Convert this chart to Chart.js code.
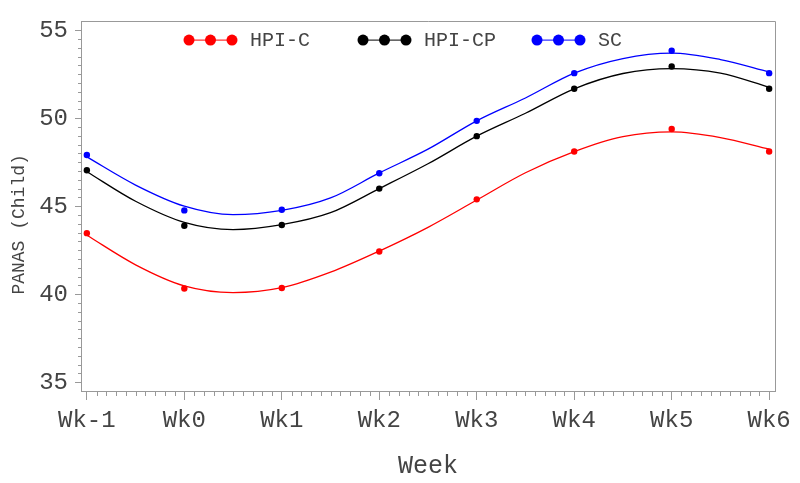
<!DOCTYPE html>
<html><head><meta charset="utf-8">
<script src="https://cdn.jsdelivr.net/npm/chart.js@4"></script>
<style>html,body{margin:0;padding:0;background:#fff}</style>
</head><body>
<canvas id="c" width="800" height="483"></canvas>
<script>
// ---- data ----
const weekLabels = ['Wk-1','Wk0','Wk1','Wk2','Wk3','Wk4','Wk5','Wk6'];
const weekValues = [-1,0,1,2,3,4,5,6];
const seriesNames = ['HPI-C','HPI-CP','SC'];
const seriesColors = ['#ff0000','#000000','#0000ff'];
const hpiC  = [43.47,40.32,40.35,42.43,45.39,48.11,49.39,48.11];
const hpiCP = [47.04,43.89,43.93,46.00,48.98,51.67,52.94,51.67];
const sc    = [47.91,44.76,44.80,46.87,49.85,52.56,53.83,52.56];
// smoothed curves, read at half-week positions
const fitWeeks = [-1,-0.5,0,0.5,1,1.5,2,2.5,3,3.5,4,4.5,5,5.5,6];
const hpiCFit  = [43.35,41.67,40.47,40.09,40.37,41.25,42.45,43.80,45.35,46.90,48.10,48.95,49.22,48.90,48.24];
const hpiCPFit = [46.96,45.28,44.08,43.67,43.95,44.63,46.00,47.41,48.98,50.28,51.67,52.54,52.82,52.56,51.76];
const scFit    = [47.80,46.20,45.00,44.52,44.76,45.47,46.89,48.24,49.85,51.15,52.56,53.39,53.70,53.33,52.63];
const yTicks = [35,40,45,50,55];
const xTitle = 'Week';
const yTitle = 'PANAS (Child)';

const FONT = '"Liberation Mono", "Courier New", monospace';
const TXT = '#444444';
const AX = '#999999';

const pointSeries = [hpiC, hpiCP, sc];
const fitSeries = [hpiCFit, hpiCPFit, scFit];

const datasets = [];
fitSeries.forEach((arr, i) => {
  datasets.push({
    type: 'line', label: seriesNames[i] + ' fit',
    data: fitWeeks.map((w, k) => ({x: w, y: arr[k]})),
    borderColor: seriesColors[i], borderWidth: 1.3, pointRadius: 0,
    cubicInterpolationMode: 'monotone', fill: false, order: 2
  });
});
pointSeries.forEach((arr, i) => {
  datasets.push({
    type: 'scatter', label: seriesNames[i], inLegend: true,
    data: weekValues.map((w, k) => ({x: w, y: arr[k]})),
    backgroundColor: seriesColors[i], borderColor: seriesColors[i],
    pointRadius: 3.2, pointBorderWidth: 0, showLine: false, order: 1
  });
});

const decor = {
  id: 'decor',
  afterDraw(chart) {
    const ctx = chart.ctx, ca = chart.chartArea;
    const xs = chart.scales.x, ys = chart.scales.y;
    ctx.save();
    // frame top/right
    ctx.strokeStyle = AX; ctx.lineWidth = 1;
    ctx.beginPath();
    ctx.moveTo(ca.left, Math.round(ca.top) + 0.5);
    ctx.lineTo(Math.round(ca.right) + 0.5, Math.round(ca.top) + 0.5);
    ctx.lineTo(Math.round(ca.right) + 0.5, ca.bottom);
    ctx.stroke();
    // minor ticks
    ctx.beginPath();
    for (let i = -10; i <= 60; i++) {
      if (i % 10 === 0) continue;
      const px = Math.round(xs.getPixelForValue(i / 10)) + 0.5;
      ctx.moveTo(px, ca.bottom); ctx.lineTo(px, ca.bottom + 5);
    }
    for (let i = 70; i <= 110; i++) {
      if (i % 10 === 0) continue;
      const py = Math.round(ys.getPixelForValue(i / 2)) + 0.5;
      ctx.moveTo(ca.left - 3, py); ctx.lineTo(ca.left, py);
    }
    ctx.stroke();
    // y title
    ctx.fillStyle = TXT;
    ctx.font = '18px ' + FONT;
    ctx.textAlign = 'center'; ctx.textBaseline = 'middle';
    ctx.translate(19, ca.top + 203);
    ctx.rotate(-Math.PI / 2);
    ctx.fillText(yTitle, 0, 0);
    ctx.restore();
    // legend
    ctx.save();
    const items = chart.data.datasets.filter(d => d.inLegend);
    let x = ca.left + 102.5; const y = ca.top + 18.7;
    ctx.font = '20px ' + FONT; ctx.textBaseline = 'middle'; ctx.textAlign = 'left';
    items.forEach(d => {
      ctx.strokeStyle = d.borderColor; ctx.lineWidth = 1;
      ctx.beginPath(); ctx.moveTo(x + 5.5, y); ctx.lineTo(x + 48.5, y); ctx.stroke();
      ctx.fillStyle = d.backgroundColor;
      [5.5, 27, 48.5].forEach(o => { ctx.beginPath(); ctx.arc(x + o, y, 5.5, 0, Math.PI * 2); ctx.fill(); });
      ctx.fillStyle = TXT;
      ctx.fillText(d.label, x + 66.5, y + 1);
      x += 174;
    });
    ctx.restore();
  }
};

new Chart(document.getElementById('c'), {
  type: 'scatter',
  data: { datasets },
  options: {
    responsive: false, animation: false, devicePixelRatio: 1,
    layout: { padding: { left: 0, top: 13, right: 25, bottom: 0 } },
    plugins: { legend: { display: false }, tooltip: { enabled: false } },
    scales: {
      x: {
        type: 'linear', min: -1.06, max: 6.06,
        afterBuildTicks: s => { s.ticks = weekValues.map(v => ({value: v})); },
        afterFit: s => { s.height = 92; },
        ticks: {
          callback: v => weekLabels[weekValues.indexOf(v)],
          font: { family: FONT, size: 24 }, color: TXT, padding: 6,
          maxRotation: 0, autoSkip: false
        },
        grid: { drawOnChartArea: false, tickLength: 9, color: AX, tickColor: AX },
        border: { color: AX, width: 1 },
        title: { display: true, text: xTitle, color: TXT,
                 font: { family: FONT, size: 25 }, padding: { top: 0, bottom: 2 } }
      },
      y: {
        type: 'linear', min: 34.5, max: 55.5,
        afterBuildTicks: s => { s.ticks = yTicks.map(v => ({value: v})); },
        afterFit: s => { s.width = 81; },
        ticks: { font: { family: FONT, size: 24 }, color: TXT, padding: 7 },
        grid: { drawOnChartArea: false, tickLength: 6, color: AX, tickColor: AX },
        border: { color: AX, width: 1 }
      }
    }
  },
  plugins: [decor]
});
</script>
</body></html>
